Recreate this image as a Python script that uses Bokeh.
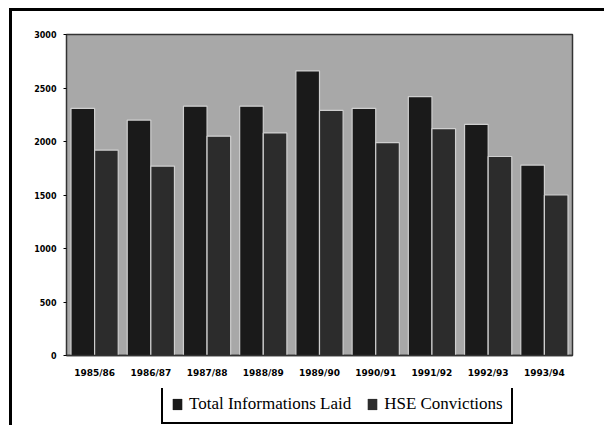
from bokeh.plotting import figure
from bokeh.layouts import column
from bokeh.models import FactorRange, Legend, LegendItem, ColumnDataSource, FixedTicker, Range1d
from bokeh.transform import dodge
from bokeh.embed import file_html
from bokeh.resources import INLINE

years = ["1985/86", "1986/87", "1987/88", "1988/89", "1989/90",
         "1990/91", "1991/92", "1992/93", "1993/94"]
total_informations = [2310, 2200, 2330, 2330, 2660, 2310, 2420, 2160, 1780]
hse_convictions = [1920, 1770, 2050, 2080, 2290, 1990, 2120, 1860, 1500]
y_ticks = [0, 500, 1000, 1500, 2000, 2500, 3000]
y_tick_labels = ["0", "500", "1000", "1500", "2000", "2500", "3000"]
series_names = ["Total Informations Laid", "HSE Convictions"]
series_colors = ["#1a1a1a", "#2c2c2c"]

src = ColumnDataSource(dict(year=years, total=total_informations, hse=hse_convictions))

p = figure(x_range=FactorRange(*years), y_range=(0, 3000),
           width=592, height=377, output_backend="svg", toolbar_location=None,
           min_border_left=54, min_border_top=23, min_border_right=32, min_border_bottom=33)

p.background_fill_color = "#a8a8a8"
p.border_fill_color = "white"
p.outline_line_color = "#333333"
p.outline_line_width = 1.5
p.xgrid.visible = False
p.ygrid.visible = False

p.vbar(x=dodge("year", -0.21, range=p.x_range), top="total", width=0.42, source=src,
       fill_color=series_colors[0], line_color="#cfcfcf", line_width=1.2)
p.vbar(x=dodge("year", 0.21, range=p.x_range), top="hse", width=0.42, source=src,
       fill_color=series_colors[1], line_color="#cfcfcf", line_width=1.2)

p.yaxis.ticker = FixedTicker(ticks=y_ticks)
p.yaxis.major_label_overrides = {t: l for t, l in zip(y_ticks, y_tick_labels)}
p.yaxis.major_label_text_font = "DejaVu Sans"
p.yaxis.major_label_text_font_style = "bold"
p.yaxis.major_label_text_font_size = "8px"
p.yaxis.major_label_text_color = "black"
p.yaxis.major_tick_out = 3
p.yaxis.major_tick_in = 0
p.yaxis.minor_tick_out = 0
p.yaxis.minor_tick_in = 0
p.yaxis.major_label_standoff = 7
p.yaxis.axis_line_color = "#333333"

p.xaxis.major_label_text_font = "DejaVu Sans"
p.xaxis.major_label_text_font_style = "bold"
p.xaxis.major_label_text_font_size = "9px"
p.xaxis.major_label_text_color = "black"
p.xaxis.major_tick_out = 0
p.xaxis.major_tick_in = 0
p.xaxis.major_label_standoff = 12
p.xaxis.axis_line_color = "#333333"
p.xaxis.axis_line_width = 1.5

# legend strip (separate figure so the legend is not clipped by the main frame)
lg = figure(width=592, height=37, output_backend="svg", toolbar_location=None,
            x_axis_location=None, y_axis_location=None,
            x_range=Range1d(0, 1), y_range=Range1d(0, 1),
            min_border=0, min_border_left=0, min_border_right=0,
            min_border_top=0, min_border_bottom=0)
lg.outline_line_color = None
lg.background_fill_color = "white"
lg.border_fill_color = "white"
lg.xgrid.visible = False
lg.ygrid.visible = False
# swatch renderers for the legend only; their bars lie outside the strip's visible range
d1 = lg.vbar(x=[-5], top=[-5], width=0.5, fill_color=series_colors[0], line_color=None)
d2 = lg.vbar(x=[-5], top=[-5], width=0.5, fill_color=series_colors[1], line_color=None)

legend = Legend(items=[LegendItem(label=series_names[0], renderers=[d1]),
                       LegendItem(label=series_names[1], renderers=[d2])],
                location=(95, 1), orientation="horizontal")
legend.label_text_font = "Liberation Serif"
legend.label_text_font_size = "17px"
legend.label_text_color = "black"
legend.border_line_color = "black"
legend.border_line_width = 2
legend.border_line_alpha = 1
legend.background_fill_color = "white"
legend.background_fill_alpha = 1
legend.glyph_width = 12
legend.glyph_height = 14
legend.label_standoff = 6
legend.spacing = 15
legend.padding = 8
legend.margin = 0
lg.add_layout(legend, "center")

layout = column(p, lg, spacing=0,
                styles={"border-top": "3px solid black", "border-left": "3px solid black",
                        "margin-left": "9px", "margin-top": "8px"})

open("out.html", "w").write(file_html(layout, INLINE))
